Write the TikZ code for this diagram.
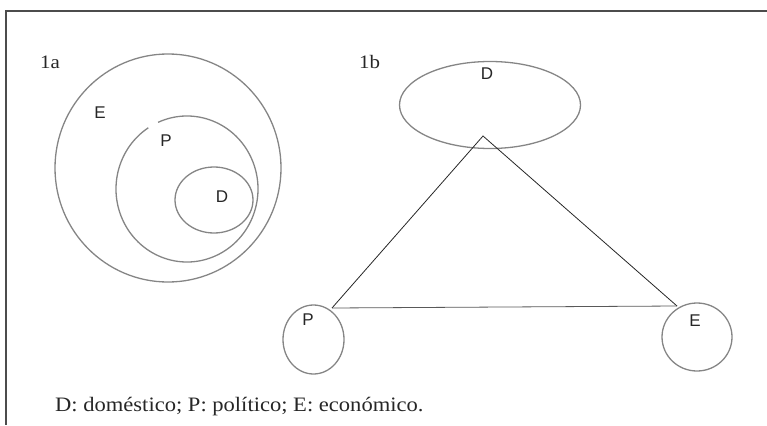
\documentclass[tikz,border=0pt]{standalone}
\usepackage{fontspec}
\setmainfont{Liberation Serif}
\newfontfamily\lblfont{Liberation Sans}
\newfontfamily\capfont[FakeStretch=1.1]{Liberation Serif}
\usetikzlibrary{shapes.geometric}
\begin{document}
\begin{tikzpicture}[x=1pt,y=-1pt,
  ring/.style={draw=black!48, line width=1.3pt, ellipse, inner sep=0pt},
  lbl/.style={font=\lblfont\fontsize{17}{17}\selectfont, text=black!85, inner sep=0pt},
  captxt/.style={font=\capfont\fontsize{20.5}{20.5}\selectfont, text=black!85, inner sep=0pt, anchor=base west},
  subtxt/.style={font=\capfont\fontsize{19}{19}\selectfont, text=black!85, inner sep=0pt, anchor=base west},
  tri/.style={draw=black!85, line width=0.8pt},
  framestyle/.style={draw=black!70, line width=1.4pt}]
\useasboundingbox (0,0) rectangle (767,425);
% frame
\coordinate (ftl) at (6,11);
\coordinate (ftr) at (767,11);
\coordinate (fbl) at (6,425);
\draw[framestyle] (ftr) -- (ftl) -- (fbl);
% 1a
\node[subtxt] (t1a) at (40,69) {1a};
\node[ring, minimum width=226pt, minimum height=228pt] (E1) at (168,168) {};
\draw[draw=black!48, line width=1.3pt] (187,189) ++(-114:71 and 73) arc[start angle=-114, end angle=237, x radius=71, y radius=73];
\node[ring, minimum width=78pt, minimum height=66pt] (D1) at (214,200) {};
\node[lbl] (lE1) at (100,113) {E};
\node[lbl] (lP1) at (166,141) {P};
\node[lbl] (lD1) at (222,197) {D};
% 1b
\node[subtxt] (t1b) at (359,69) {1b};
\node[ring, minimum width=181pt, minimum height=87pt] (D2) at (490,105) {};
\node[ring, minimum width=61pt, minimum height=69pt] (P2) at (313.5,339.5) {};
\node[ring, minimum width=70pt, minimum height=68pt] (E2) at (697,337) {};
\node[lbl] (lD2) at (487,74) {D};
\node[lbl] (lP2) at (308,320) {P};
\node[lbl] (lE2) at (695,321) {E};
\coordinate (apex) at (483,136);
\coordinate (pl) at (332,308);
\coordinate (pr) at (677,306);
\draw[tri] (pl) -- (apex) -- (pr);
\draw[tri, draw=black!65] (pl) -- (pr);
% caption
\node[captxt] (capt) at (55,411) {D: doméstico; P: político; E: económico.};
\end{tikzpicture}
\end{document}
